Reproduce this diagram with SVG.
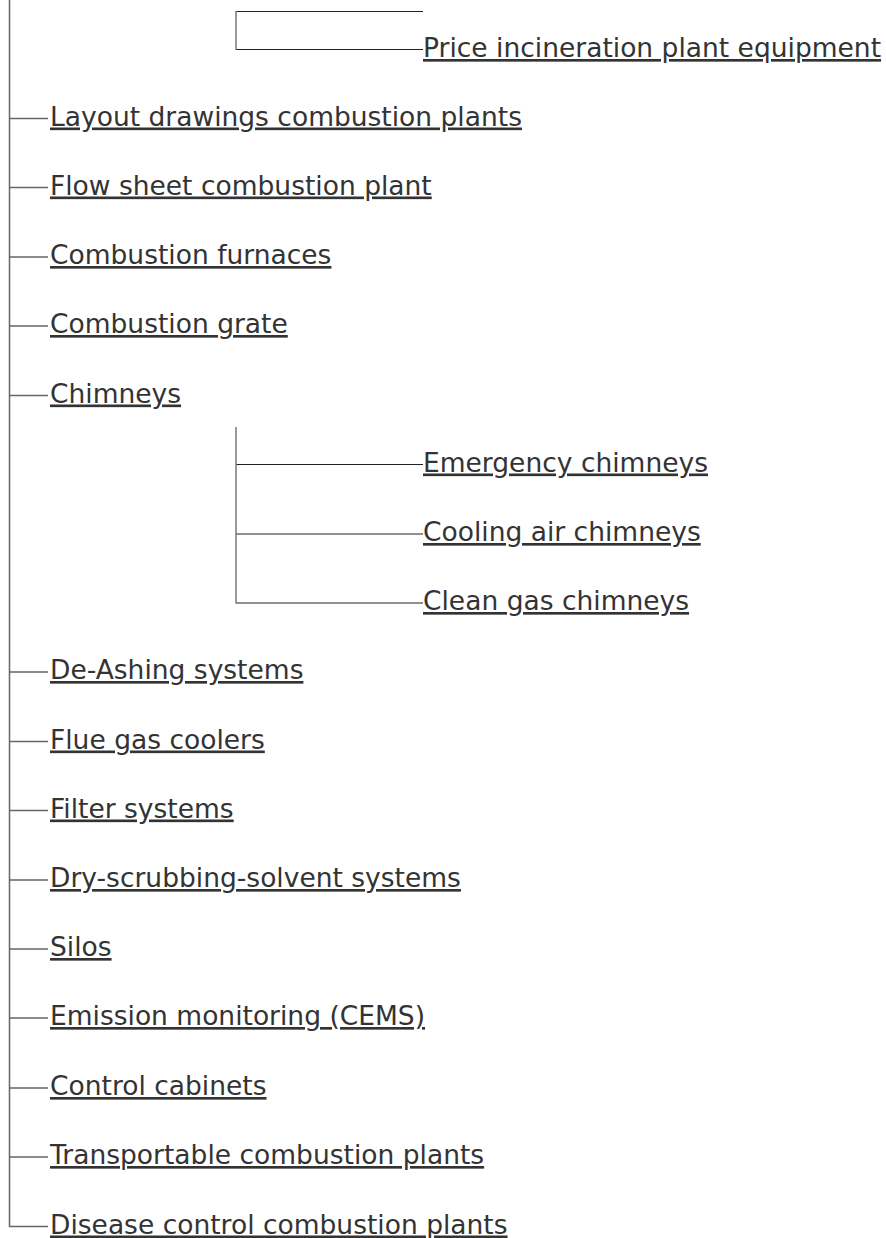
<svg xmlns="http://www.w3.org/2000/svg" width="886" height="1238" viewBox="0 0 886 1238">
<style>
.t{font-family:"DejaVu Sans",Verdana,sans-serif;font-size:26.5px;fill:#333;text-decoration:underline;text-decoration-skip-ink:none}
.m{stroke:#666;stroke-width:1.5;fill:none}
.s{stroke:#222;stroke-width:1;fill:none}
.v{stroke:#777;stroke-width:1.5;fill:none}
</style>
<rect width="886" height="1238" fill="#fff"/>
<g id="connectors">
<path class="m" d="M9.5 0V1226.5H48"/>
<path class="m" d="M9.5 118.5H48M9.5 187.5H48M9.5 257H48M9.5 326H48M9.5 395.5H48M9.5 672H48M9.5 741.5H48M9.5 810.5H48M9.5 880H48M9.5 949H48M9.5 1018H48M9.5 1088H48M9.5 1157H48"/>
<path class="s" d="M236 11.5H423M236 49.5H423"/>
<path class="v" d="M236 11V50"/>
<path class="s" d="M236 464.5H423M236 534H423M236 603H423"/>
<path class="v" d="M236 427V603.5"/>
</g>
<g id="n0"><text class="t" x="423" y="57">Price incineration plant equipment</text></g>
<g id="n1"><text class="t" x="50" y="125.5">Layout drawings combustion plants</text></g>
<g id="n2"><text class="t" x="50" y="194.5">Flow sheet combustion plant</text></g>
<g id="n3"><text class="t" x="50" y="264">Combustion furnaces</text></g>
<g id="n4"><text class="t" x="50" y="333">Combustion grate</text></g>
<g id="n5"><text class="t" x="50" y="402.5">Chimneys</text></g>
<g id="n6"><text class="t" x="423" y="471.5">Emergency chimneys</text></g>
<g id="n7"><text class="t" x="423" y="541">Cooling air chimneys</text></g>
<g id="n8"><text class="t" x="423" y="610">Clean gas chimneys</text></g>
<g id="n9"><text class="t" x="50" y="679">De-Ashing systems</text></g>
<g id="n10"><text class="t" x="50" y="748.5">Flue gas coolers</text></g>
<g id="n11"><text class="t" x="50" y="817.5">Filter systems</text></g>
<g id="n12"><text class="t" x="50" y="887">Dry-scrubbing-solvent systems</text></g>
<g id="n13"><text class="t" x="50" y="956">Silos</text></g>
<g id="n14"><text class="t" x="50" y="1025">Emission monitoring (CEMS)</text></g>
<g id="n15"><text class="t" x="50" y="1095">Control cabinets</text></g>
<g id="n16"><text class="t" x="50" y="1164">Transportable combustion plants</text></g>
<g id="n17"><text class="t" x="50" y="1233.5">Disease control combustion plants</text></g>
</svg>
